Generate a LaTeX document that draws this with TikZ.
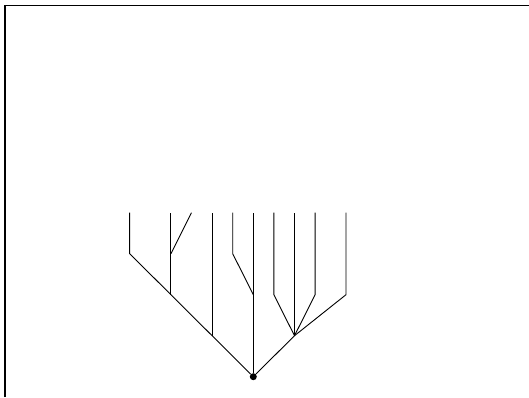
\documentclass[tikz,border=0pt]{standalone}
\usepackage{tikz}
\usetikzlibrary{positioning}

\begin{document}
\begin{tikzpicture}[
        x=20.6pt, y=41pt,
        branch/.style={line width=0.9pt, line join=miter},
        rootdot/.style={circle, fill, inner sep=0pt, minimum size=7pt}
    ]
        \useasboundingbox (-253.3pt,-20.3pt) rectangle (275.7pt,376.7pt);

        % Frame
        \draw[line width=1.2pt] (-248.3pt,-20.3pt) |- (275.7pt,371.2pt);

        % Root
        \node[rootdot] (root) at (0,0) {};

        % Branch points
        \coordinate (a) at (-2,1);
        \coordinate (b) at (-4,2);
        \coordinate (c) at (-4,3);
        \coordinate (d) at (-6,3);
        \coordinate (e) at (0,2);
        \coordinate (f) at (-1,3);
        \coordinate (g) at (2,1);
        \coordinate (h) at (1,2);
        \coordinate (i) at (3,2);
        \coordinate (j) at (4.5,2);

        % Leaves
        \foreach \n/\x in {l1/-6, l2/-4, l3/-3, l4/-2, l5/-1, l6/0, l7/1, l8/2, l9/3, l10/4.5}
            \coordinate (\n) at (\x,4);

        % Left subtree
        \draw[branch] (root) -- (a) -- (b) -- (d) -- (l1);
        \draw[branch] (a) -- (l4);
        \draw[branch] (b) -- (c) -- (l2);
        \draw[branch] (c) -- (l3);

        % Middle subtree
        \draw[branch] (root) -- (e) -- (l6);
        \draw[branch] (e) -- (f) -- (l5);

        % Right subtree
        \draw[branch] (root) -- (g) -- (h) -- (l7);
        \draw[branch] (g) -- (l8);
        \draw[branch] (g) -- (i) -- (l9);
        \draw[branch] (g) -- (j) -- (l10);

    \end{tikzpicture}
\end{document}
